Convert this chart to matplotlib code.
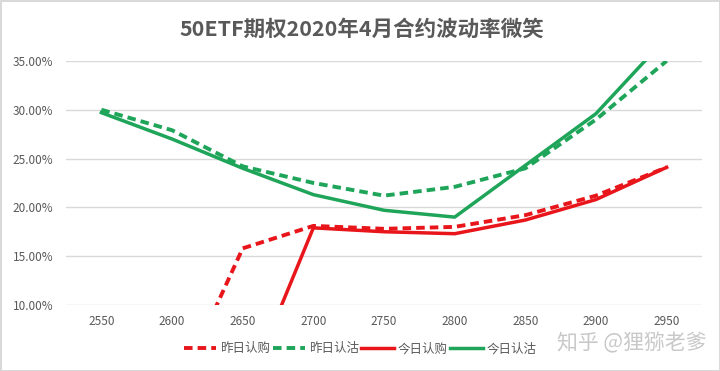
import matplotlib
matplotlib.use('Agg')
import matplotlib.pyplot as plt
from matplotlib.ticker import FuncFormatter

plt.rcParams['font.family'] = ['Noto Sans CJK SC', 'DejaVu Sans']

# 数据 (行权价 / 隐含波动率 %)
strikes = ['2550', '2600', '2650', '2700', '2750', '2800', '2850', '2900', '2950']
call_yday = [0.0, 0.0, 15.8, 18.1, 17.8, 18.0, 19.2, 21.2, 24.1]
put_yday = [30.0, 27.9, 24.2, 22.5, 21.2, 22.1, 24.0, 29.0, 35.0]
call_today = [0.0, 0.0, 0.3, 17.9, 17.5, 17.3, 18.7, 20.8, 24.1]
put_today = [29.7, 27.0, 24.0, 21.3, 19.7, 19.0, 24.3, 29.6, 37.4]

RED, GREEN = '#e8161b', '#1fa55a'
TXT = '#595959'

fig = plt.figure(figsize=(7.2, 3.71), dpi=100)
fig.patch.set_edgecolor('#d9d9d9')
fig.patch.set_linewidth(2)
ax = fig.add_axes([0.0917, 0.178, 0.8833, 0.6578])

x = list(range(len(strikes)))
l1, = ax.plot(x, call_yday, color=RED, lw=2.8, ls=(0, (2.2, 1.3)), label='昨日认购')
l2, = ax.plot(x, put_yday, color=GREEN, lw=2.8, ls=(0, (2.2, 1.3)), label='昨日认沽')
l3, = ax.plot(x, call_today, color=RED, lw=2.5, label='今日认购')
l4, = ax.plot(x, put_today, color=GREEN, lw=2.5, label='今日认沽')

ax.set_xlim(-0.5, len(strikes) - 0.5)
ax.set_ylim(10, 35)
ax.set_yticks([10, 15, 20, 25, 30, 35])
ax.yaxis.set_major_formatter(FuncFormatter(lambda v, p: f'{v:.2f}%'))
ax.set_xticks(x)
ax.set_xticklabels(strikes)
ax.tick_params(length=0, colors=TXT, labelsize=8.5)
ax.tick_params(axis='y', pad=9)
ax.tick_params(axis='x', pad=7)
for s in ax.spines.values():
    s.set_visible(False)
ax.grid(axis='y', color='#d9d9d9', lw=1)
ax.set_axisbelow(True)

fig.text(0.503, 0.922, '50ETF期权2020年4月合约波动率微笑', ha='center', va='center',
         fontsize=15.5, fontweight='bold', color=TXT)

fig.legend(handles=[l1, l2, l3, l4], loc='center', bbox_to_anchor=(0.5, 0.06),
           ncol=4, frameon=False, fontsize=9, handlelength=2.6, handletextpad=0.3,
           columnspacing=0.2, labelcolor=TXT)

fig.text(0.877, 0.075, '知乎 @狸猕老爹', ha='center', va='center', fontsize=15,
         color='#c8c8c8')

fig.savefig('out.png', dpi=100)
